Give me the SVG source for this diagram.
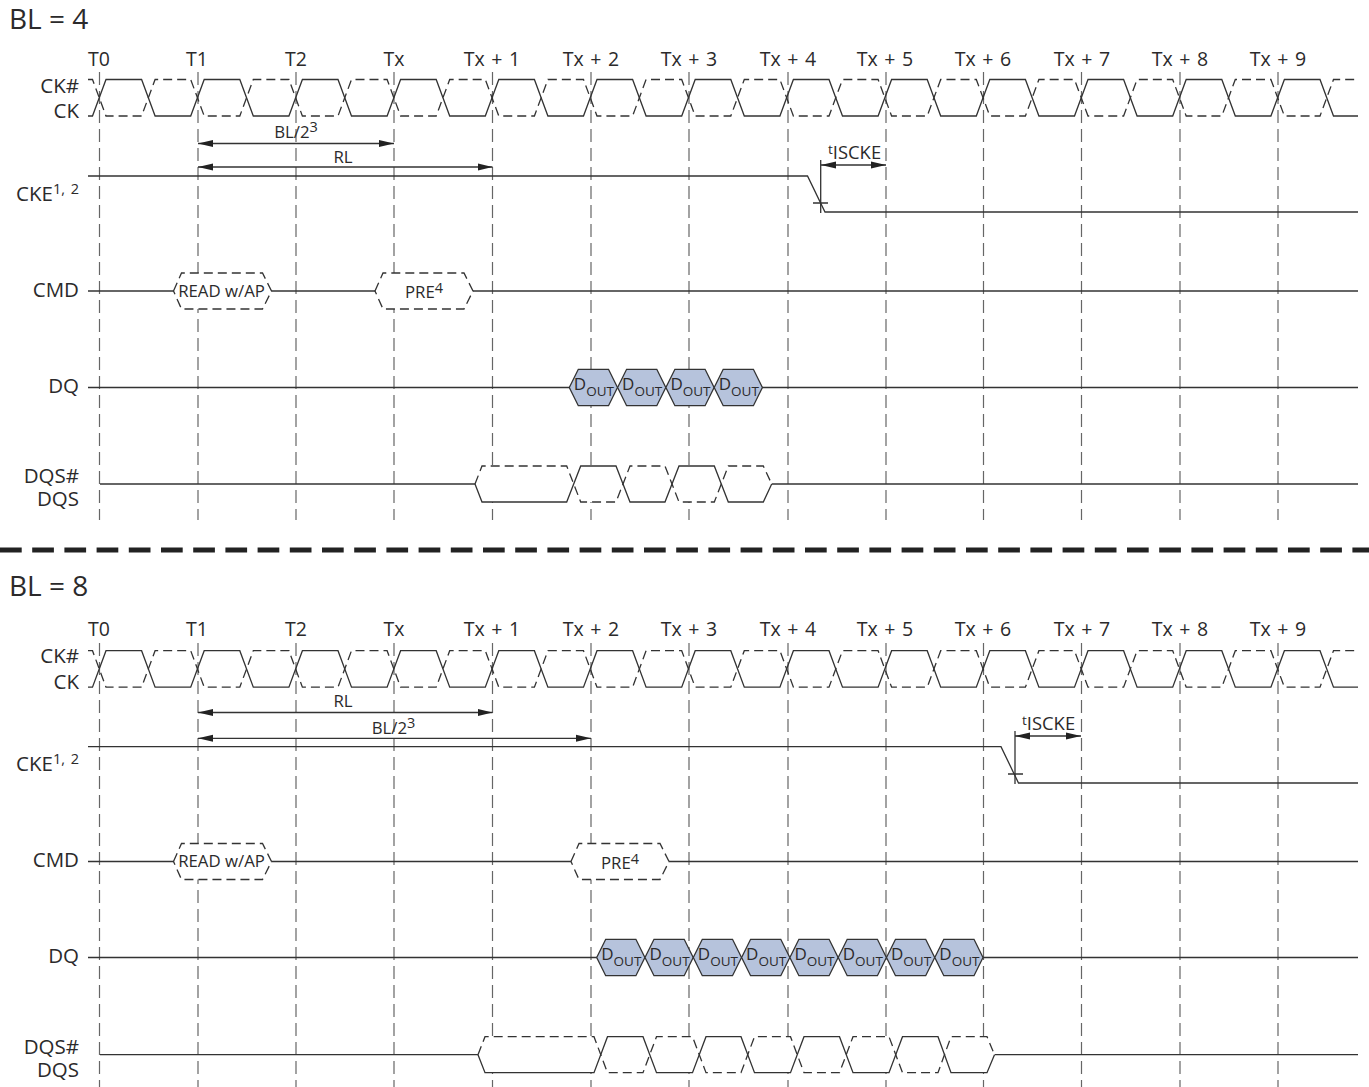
<svg xmlns="http://www.w3.org/2000/svg" width="1369" height="1087" viewBox="0 0 1369 1087">
<style>
text{font-family:"Open Sans","Noto Sans","DejaVu Sans",sans-serif;fill:#2b2a2b;font-size:19.5px}
.r{text-anchor:end;font-size:20.5px}.c{text-anchor:middle}.h{font-size:28px}.s{font-size:14.5px}.m{font-size:16.8px}.d{font-size:17px}.o{font-size:13.5px}.i{font-size:18.4px}
.w{fill:none;stroke:#333;stroke-width:1.3}
.dash{fill:none;stroke:#333;stroke-width:1.3;stroke-dasharray:9 5}
.hex{fill:#fff;stroke:none}
.dout{fill:#b6c3dc;stroke:#333;stroke-width:1.3}
.g{fill:none;stroke:#666;stroke-width:1.2;stroke-dasharray:13 6}
.a{fill:none;stroke:#333;stroke-width:1.3;marker-start:url(#as);marker-end:url(#ae)}
</style>
<defs>
<marker id="ae" markerUnits="userSpaceOnUse" markerWidth="16" markerHeight="8" refX="15" refY="4" orient="auto"><path d="M0 .5L15 4L0 7.5z" fill="#222"/></marker>
<marker id="as" markerUnits="userSpaceOnUse" markerWidth="16" markerHeight="8" refX="0" refY="4" orient="auto"><path d="M15 .5L0 4L15 7.5z" fill="#222"/></marker>
<g id="ckwave">
<path class="w" d="M88 36.5H92.5l13.5-36.5h35.6l13.5 36.5h35.6 l13.5-36.5h35.6l13.5 36.5h35.6 l13.5-36.5h35.6l13.5 36.5h35.6 l13.5-36.5h35.6l13.5 36.5h35.6 l13.5-36.5h35.6l13.5 36.5h35.6 l13.5-36.5h35.6l13.5 36.5h35.6 l13.5-36.5h35.6l13.5 36.5h35.6 l13.5-36.5h35.6l13.5 36.5h35.6 l13.5-36.5h35.6l13.5 36.5h35.6 l13.5-36.5h35.6l13.5 36.5h35.6 l13.5-36.5h35.6l13.5 36.5h35.6 l13.5-36.5h35.6l13.5 36.5h35.6 l13.5-36.5h35.6l13.5 36.5H1358"/>
<path class="dash" d="M88 0H92.5l13.5 36.5h35.6l13.5-36.5h35.6 l13.5 36.5h35.6l13.5-36.5h35.6 l13.5 36.5h35.6l13.5-36.5h35.6 l13.5 36.5h35.6l13.5-36.5h35.6 l13.5 36.5h35.6l13.5-36.5h35.6 l13.5 36.5h35.6l13.5-36.5h35.6 l13.5 36.5h35.6l13.5-36.5h35.6 l13.5 36.5h35.6l13.5-36.5h35.6 l13.5 36.5h35.6l13.5-36.5h35.6 l13.5 36.5h35.6l13.5-36.5h35.6 l13.5 36.5h35.6l13.5-36.5h35.6 l13.5 36.5h35.6l13.5-36.5h35.6 l13.5 36.5h35.6l13.5-36.5H1358"/>
</g>
<g id="labels">
<text class="c" x="99" y="66">T0</text><text class="c" x="197" y="66">T1</text><text class="c" x="296" y="66">T2</text><text class="c" x="394" y="66">Tx</text>
<text class="c" x="492" y="66" word-spacing="1.5">Tx + 1</text><text class="c" x="591" y="66" word-spacing="1.5">Tx + 2</text><text class="c" x="689" y="66" word-spacing="1.5">Tx + 3</text><text class="c" x="788" y="66" word-spacing="1.5">Tx + 4</text><text class="c" x="885" y="66" word-spacing="1.5">Tx + 5</text><text class="c" x="983" y="66" word-spacing="1.5">Tx + 6</text><text class="c" x="1082" y="66" word-spacing="1.5">Tx + 7</text><text class="c" x="1180" y="66" word-spacing="1.5">Tx + 8</text><text class="c" x="1278" y="66" word-spacing="1.5">Tx + 9</text>
</g>
<g id="grid">
<path class="g" d="M99.5 72V520M198 72V520M296 72V520M394 72V520M492.5 72V520M591 72V520M689 72V520M788 72V520M886 72V520M983.5 72V520M1081.5 72V520M1180 72V520M1278 72V520"/>
</g>
<g id="dhex"><path class="dout" d="M0 18.2L9 0H39.2L48.2 18.2L39.2 36.4H9Z"/><text x="4.5" y="21" class="d">D<tspan class="o" dy="6">OUT</tspan></text></g>
<path id="rdhex" d="M0 18L8 0H89L98 18L89 36H8Z"/>
</defs>

<g id="title-bl4"><text class="h" x="9" y="28.5">BL = 4</text></g>
<use href="#labels"/>
<g id="grid-top"><use href="#grid"/></g>
<g id="signal-ck-top"><use href="#ckwave" y="79.5"/><text class="r" x="79" y="92.7">CK#</text><text class="r" x="79" y="118">CK</text></g>
<g id="signal-cke-top">
<path class="w" d="M88 176H807.5L825 212H1358"/>
<path class="w" d="M820.7 160V213M813 203H828"/>
<text class="r" x="79" y="200.7">CKE<tspan class="s" dy="-7" word-spacing="2">1, 2</tspan></text>
</g>
<g id="signal-cmd-top">
<path class="w" d="M88 291H1358"/>
<use href="#rdhex" x="173.5" y="273" class="hex"/><use href="#rdhex" x="173.5" y="273" class="dash"/>
<use href="#rdhex" x="375" y="273" class="hex"/><use href="#rdhex" x="375" y="273" class="dash"/>
<text class="c m" x="221.5" y="296.5">READ w/AP</text>
<text class="c m" x="424" y="298">PRE<tspan class="s" dy="-5">4</tspan></text>
<text class="r" x="79" y="297">CMD</text>
</g>
<g id="signal-dq-top">
<path class="w" d="M88 387.5H1358"/>
<use href="#dhex" x="569.3" y="369.3"/><use href="#dhex" x="617.6" y="369.3"/><use href="#dhex" x="665.9" y="369.3"/><use href="#dhex" x="714.2" y="369.3"/>
<text class="r" x="79" y="393">DQ</text>
</g>
<g id="signal-dqs-top">
<path class="w" d="M100 484H475"/><path class="w" d="M771.7 484H1358"/>
<path class="hex" d="M475 484L482 466H764L771.7 484L764 502H482Z"/>
<path class="w" d="M475 484L482 502H566.7L580.7 466H616L630 502H665L679 466H714.3L728.3 502H763.3L771.7 484"/>
<path class="dash" d="M475 484L482 466H566.7L580.7 502H616L630 466H665L679 502H714.3L728.3 466H763.3L771.7 484"/>
<text class="r" x="79" y="482.5">DQS#</text><text class="r" x="79" y="505.5">DQS</text>
</g>
<g id="connectors-top">
<path class="a" d="M198 143.5H394"/><path class="a" d="M198 167H492.5"/><path class="a" d="M821 165H886"/>
<text class="c m" x="296" y="138">BL/2<tspan class="s" dy="-6">3</tspan></text>
<text class="c m" x="343" y="163">RL</text>
<text class="i" x="828" y="159"><tspan class="o" dy="-5">t</tspan><tspan dy="5">ISCKE</tspan></text>
</g>

<path id="separator" d="M0 550H1369" fill="none" stroke="#222" stroke-width="5" stroke-dasharray="21.7 10.5"/>

<g id="title-bl8"><text class="h" x="9" y="595.5">BL = 8</text></g>
<use href="#labels" y="570"/>
<g id="grid-bottom"><use href="#grid" y="571"/></g>
<g id="signal-ck-bottom"><use href="#ckwave" y="650.7"/><text class="r" x="79" y="663.3">CK#</text><text class="r" x="79" y="688.8">CK</text></g>
<g id="signal-cke-bottom">
<path class="w" d="M88 746.7H1001L1018.5 783H1358"/>
<path class="w" d="M1015 731V784M1008 774H1023"/>
<text class="r" x="79" y="771">CKE<tspan class="s" dy="-7" word-spacing="2">1, 2</tspan></text>
</g>
<g id="signal-cmd-bottom">
<path class="w" d="M88 861.5H1358"/>
<use href="#rdhex" x="173.5" y="843.5" class="hex"/><use href="#rdhex" x="173.5" y="843.5" class="dash"/>
<use href="#rdhex" x="571" y="843.5" class="hex"/><use href="#rdhex" x="571" y="843.5" class="dash"/>
<text class="c m" x="221.5" y="867">READ w/AP</text>
<text class="c m" x="620" y="868.5">PRE<tspan class="s" dy="-5">4</tspan></text>
<text class="r" x="79" y="867">CMD</text>
</g>
<g id="signal-dq-bottom">
<path class="w" d="M88 957.5H1358"/>
<use href="#dhex" x="596.7" y="939.3"/><use href="#dhex" x="645" y="939.3"/><use href="#dhex" x="693.3" y="939.3"/><use href="#dhex" x="741.6" y="939.3"/><use href="#dhex" x="789.9" y="939.3"/><use href="#dhex" x="838.2" y="939.3"/><use href="#dhex" x="886.5" y="939.3"/><use href="#dhex" x="934.8" y="939.3"/>
<text class="r" x="79" y="963">DQ</text>
</g>
<g id="signal-dqs-bottom">
<path class="w" d="M100 1054.7H478"/><path class="w" d="M994.5 1054.7H1358"/>
<path class="hex" d="M478 1054.7L485 1036.7H987L994.5 1054.7L987 1072.7H485Z"/>
<path class="w" d="M478 1054.7L485 1072.7H594L607.5 1036.7H643L656.5 1072.7H692.5L706 1036.7H741L754.5 1072.7H790.5L804 1036.7H839.5L853 1072.7H889L902.5 1036.7H938L951 1072.7H987L994.5 1054.7"/>
<path class="dash" d="M478 1054.7L485 1036.7H594L607.5 1072.7H643L656.5 1036.7H692.5L706 1072.7H741L754.5 1036.7H790.5L804 1072.7H839.5L853 1036.7H889L902.5 1072.7H938L951 1036.7H987L994.5 1054.7"/>
<text class="r" x="79" y="1053.5">DQS#</text><text class="r" x="79" y="1076.5">DQS</text>
</g>
<g id="connectors-bottom">
<path class="a" d="M198 712.5H492.5"/><path class="a" d="M198 738.3H591"/><path class="a" d="M1015 736H1081"/>
<text class="c m" x="343" y="707">RL</text>
<text class="c m" x="393.5" y="734">BL/2<tspan class="s" dy="-6">3</tspan></text>
<text class="i" x="1022" y="730"><tspan class="o" dy="-5">t</tspan><tspan dy="5">ISCKE</tspan></text>
</g>
</svg>
